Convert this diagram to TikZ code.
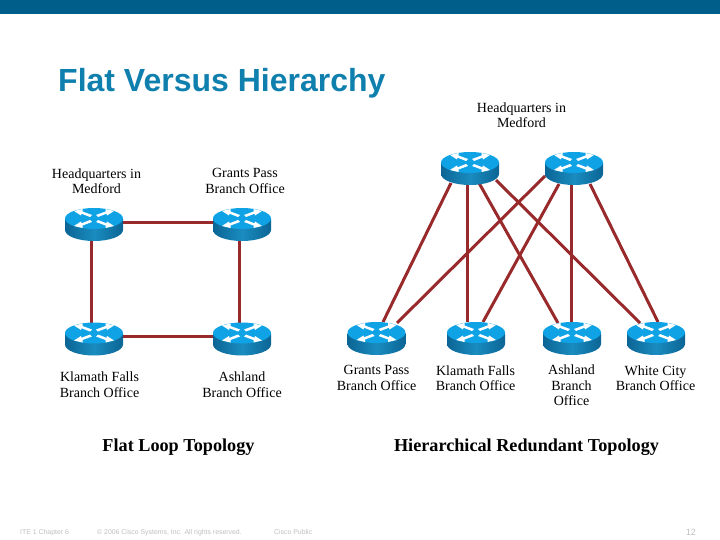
\documentclass[tikz,border=0pt]{standalone}
\usepackage{fontspec}
\setmainfont{Liberation Serif}
\newfontfamily\arialfont{Liberation Sans}
\usetikzlibrary{backgrounds}
\definecolor{barblue}{HTML}{005F8A}
\definecolor{titleblue}{HTML}{0F7FAE}
\definecolor{linkred}{HTML}{982A2C}
\definecolor{rtop}{HTML}{0FA3E6}
\definecolor{rsideA}{HTML}{0B6594}
\definecolor{rsideB}{HTML}{1A8CC0}
\definecolor{footgray}{HTML}{BEBEBE}
\tikzset{
  routerbox/.style={draw=none,fill=none,minimum width=58pt,minimum height=33pt,inner sep=0pt,outer sep=0pt},
  link/.style={draw=linkred,line width=3pt},
  lbl/.style={align=center,font=\fontsize{14}{15.5}\selectfont,text=black,inner sep=0pt},
  head/.style={font=\bfseries\fontsize{18.2}{20}\selectfont,text=black,inner sep=0pt},
  foot/.style={font=\arialfont\fontsize{6.9}{7.5}\selectfont,text=footgray,inner sep=0pt,anchor=west},
  pics/routerpic/.style={code={
    \path[left color=rsideA,right color=rsideA,middle color=rsideB]
      (-29,-5.5) -- (-29,5.5) arc[start angle=180,end angle=0,x radius=29,y radius=11]
      -- (29,-5.5) -- cycle;
    \fill[rtop] (0,-6) ellipse[x radius=29,y radius=10.5];
    \fill[white] (-20,-13.5) -- (-11.5,-15.5) -- (-11.5,-13) -- (-2,-9.5) -- (-4,-7.5) -- (-12.5,-10.8) -- (-13,-9) -- cycle;
    \fill[white] (20,-13.5) -- (11.5,-15.5) -- (11.5,-13) -- (2,-9.5) -- (4,-7.5) -- (12.5,-10.8) -- (13,-9) -- cycle;
    \fill[white] (-20,1.5) -- (-11.5,3.5) -- (-11.5,1) -- (-2,-2.5) -- (-4,-4.5) -- (-12.5,-1.2) -- (-13,-3) -- cycle;
    \fill[white] (20,1.5) -- (11.5,3.5) -- (11.5,1) -- (2,-2.5) -- (4,-4.5) -- (12.5,-1.2) -- (13,-3) -- cycle;
  }}
}
\newcommand{\rtr}[3]{\node[routerbox] (#1) at (#2,#3) {}; \pic at (#2,#3) {routerpic};}
\newcommand{\lnk}[6]{\begin{scope}[on background layer]\draw[link] ([shift={(#2,#3)}]#1.center) -- ([shift={(#5,#6)}]#4.center);\end{scope}}
\begin{document}
\begin{tikzpicture}[x=1pt,y=-1pt]
\useasboundingbox (0,0) rectangle (720,540);
\fill[barblue] (0,0) rectangle (720,14.5);
\node[anchor=base west,inner sep=0pt,text=titleblue,font=\arialfont\bfseries\fontsize{32}{34}\selectfont] (title) at (58,92) {Flat Versus Hierarchy};

% flat
\rtr{fa}{94}{224.5}
\rtr{fb}{242}{224.5}
\rtr{fc}{94}{339}
\rtr{fd}{242}{339}
% hierarchy
\rtr{ha}{470}{168.5}
\rtr{hb}{574}{168.5}
\rtr{ga}{376.5}{338.5}
\rtr{gb}{476}{338.5}
\rtr{gc}{572}{338.5}
\rtr{gd}{656}{338.5}

\lnk{fa}{0}{-1.8}{fb}{0}{-1.8}
\lnk{fc}{0}{-3}{fd}{0}{-3}
\lnk{fa}{-2.5}{0}{fc}{-2.5}{0}
\lnk{fb}{-3}{0}{fd}{-3}{0}

\lnk{ha}{-19}{14.5}{ga}{6.5}{-16.5}
\lnk{ha}{-3}{14.5}{gb}{-9}{-16.5}
\lnk{ha}{9}{14.5}{gc}{-14}{-15.5}
\lnk{ha}{26}{11.5}{gd}{-16}{-15.5}
\lnk{hb}{-29}{7.5}{ga}{20.5}{-15.5}
\lnk{hb}{-15}{15.5}{gb}{7}{-16.5}
\lnk{hb}{-3}{14.5}{gc}{-1}{-16.5}
\lnk{hb}{16}{15.5}{gd}{2}{-16.5}

\node[lbl] (l1) at (96.5,181) {Headquarters in\\Medford};
\node[lbl] (l2) at (245,181) {Grants Pass\\Branch Office};
\node[lbl] (l3) at (99.5,384.5) {Klamath Falls\\Branch Office};
\node[lbl] (l4) at (242,384.5) {Ashland\\Branch Office};
\node[lbl] (l5) at (521.5,115) {Headquarters in\\Medford};
\node[lbl] (l6) at (376.5,378) {Grants Pass\\Branch Office};
\node[lbl] (l7) at (475.5,378) {Klamath Falls\\Branch Office};
\node[lbl] (l8) at (571.5,385.5) {Ashland\\Branch\\Office};
\node[lbl] (l9) at (655.5,378) {White City\\Branch Office};
\node[head] (h1) at (178.5,447) {Flat Loop Topology};
\node[head] (h2) at (526.5,447) {Hierarchical Redundant Topology};

\node[foot] (f1) at (20,532.5) {ITE 1 Chapter 6};
\node[foot] (f2) at (97,532.5) {© 2006 Cisco Systems, Inc. All rights reserved.};
\node[foot] (f3) at (274,532.5) {Cisco Public};
\node[foot,font=\arialfont\fontsize{9}{10}\selectfont,anchor=east] (f4) at (696,532) {12};
\end{tikzpicture}
\end{document}
